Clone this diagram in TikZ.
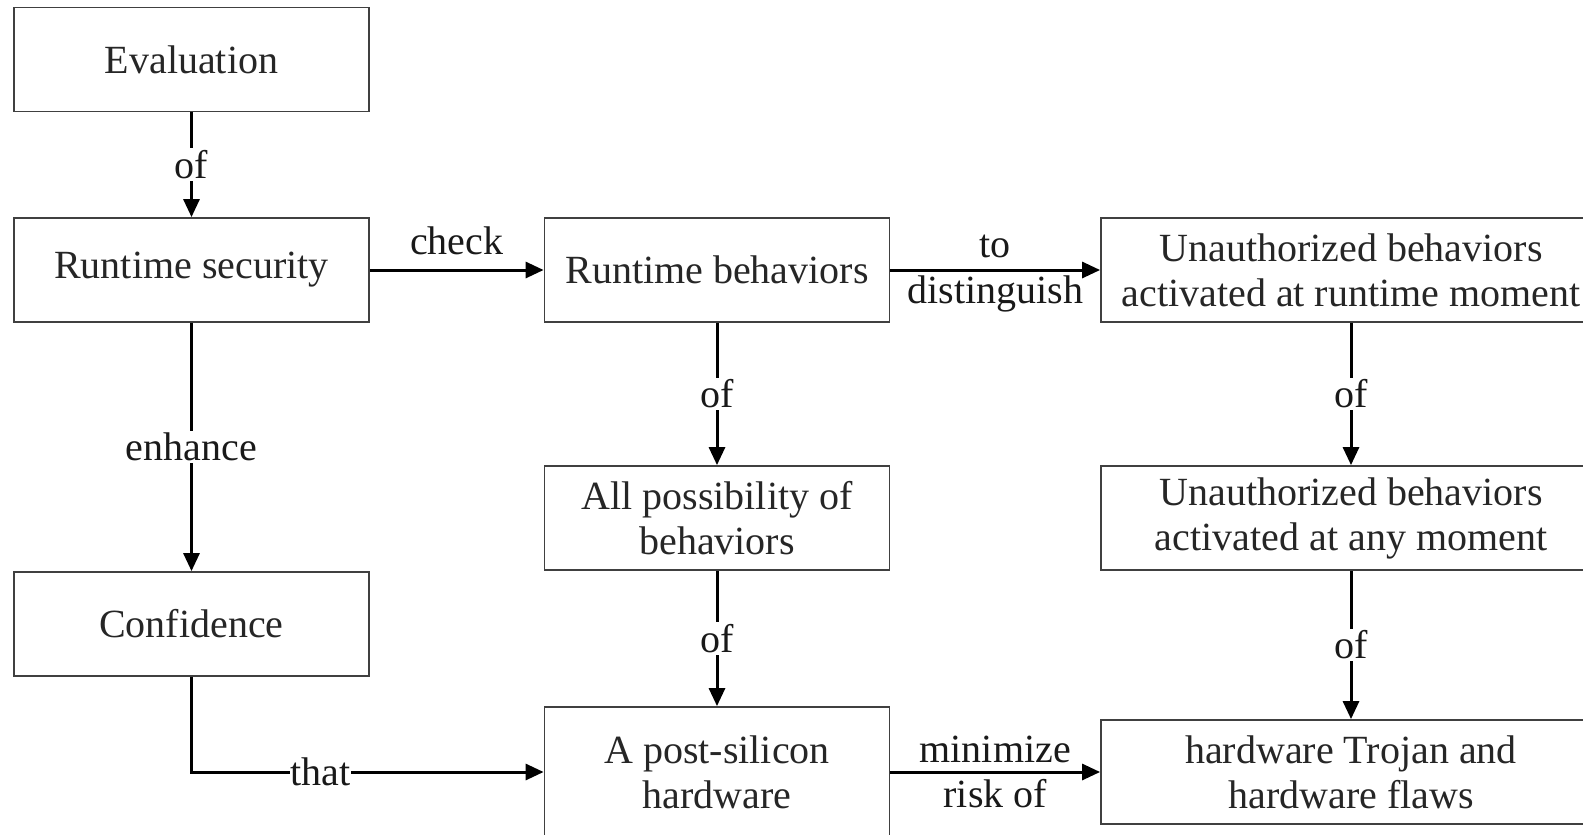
\documentclass[tikz,border=0pt]{standalone}
\usepackage{fontspec}
\setmainfont{Liberation Serif}
\usetikzlibrary{arrows.meta}
\begin{document}
\begin{tikzpicture}[x=1pt,y=-1pt,
  box/.style={draw=black!75,line width=1.8pt,minimum height=104pt,inner sep=0pt,align=center,text=black!85,
    font=\fontsize{40}{45}\selectfont},
  lbl/.style={fill=white,inner sep=2pt,text=black!90,align=center,font=\fontsize{40}{45}\selectfont},
  lblt/.style={inner sep=0pt,text=black!90,align=center,font=\fontsize{40}{45}\selectfont},
  conn/.style={line width=3pt,-{Triangle[length=18pt,width=16pt]}}]
\useasboundingbox (0,0) rectangle (1583,835);
\node[box,minimum width=355pt] (eval) at (191.5,59.5) {Evaluation};
\node[box,minimum width=355pt] (rs) at (191.5,270) {Runtime security};
\node[box,minimum width=355pt] (conf) at (191.5,624) {Confidence};
\node[box,minimum width=345pt] (rb) at (717,270) {Runtime behaviors};
\node[box,minimum width=345pt] (allp) at (717,518) {All possibility of\\behaviors};
\node[box,minimum width=345pt,minimum height=130pt] (post) at (717,772) {A post-silicon\\hardware};
\node[box,minimum width=500pt] (ua1) at (1351,270) {Unauthorized behaviors\\activated at runtime moment};
\node[box,minimum width=500pt] (ua2) at (1351,518) {Unauthorized behaviors\\activated at any moment};
\node[box,minimum width=500pt] (hw) at (1351,772) {hardware Trojan and\\hardware flaws};
\draw[conn] (eval) -- node[lbl]{of} (rs);
\draw[conn] (rs) -- node[lblt,yshift=29pt]{check} (rb);
\draw[conn] (rb) -- node[lblt,yshift=24pt]{to} node[lblt,yshift=-24pt]{distinguish} (ua1);
\draw[conn] (rs) -- node[lbl]{enhance} (conf);
\draw[conn] (rb) -- node[lbl]{of} (allp);
\draw[conn] (allp) -- node[lbl]{of} (post);
\draw[conn] (ua1) -- node[lbl]{of} (ua2);
\draw[conn] (ua2) -- node[lbl]{of} (hw);
\draw[conn] (conf.south) -- (conf.south |- post.west) -- node[lbl,pos=0.366,inner sep=0.5pt]{that} (post.west);
\draw[conn] (post) -- node[lblt,yshift=23pt]{minimize} node[lblt,yshift=-22pt]{risk of} (hw);
\end{tikzpicture}
\end{document}
